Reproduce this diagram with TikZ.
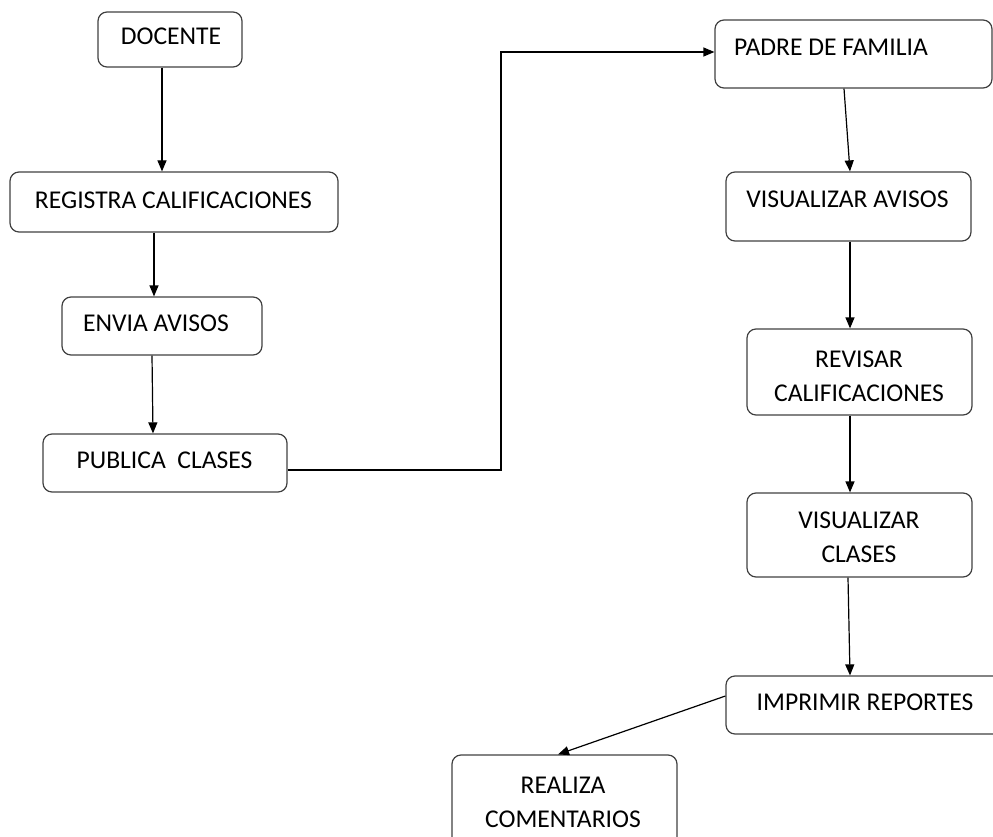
\documentclass[tikz,border=0pt]{standalone}
\usepackage{fontspec}
\setmainfont{Carlito}
\usetikzlibrary{arrows.meta, positioning}

\tikzset{
  caja/.style={draw=black!75, line width=1.2pt, rounded corners=9pt},
  texto/.style={font=\fontsize{25.6}{34}\selectfont, align=center, inner sep=0pt, text=black},
  flecha/.style={line width=1.2pt, -{Triangle[length=11pt, width=9pt]}}
}

\begin{document}
\begin{tikzpicture}[x=1pt, y=-1pt]
  \useasboundingbox (0,0) rectangle (993,837);
  \clip (0,0) rectangle (993,837);
  % cajas del docente
  \node[caja, minimum width=144pt, minimum height=55pt] (docente) at (170,39.5) {};
  \node[caja, minimum width=328pt, minimum height=60pt] (registra) at (174,202) {};
  \node[caja, minimum width=200pt, minimum height=58pt] (envia) at (162,326) {};
  \node[caja, minimum width=244pt, minimum height=58pt] (publica) at (165,463) {};
  \node[texto] (docente-t) at (171,36) {DOCENTE};
  \node[texto] (registra-t) at (173.5,200) {REGISTRA CALIFICACIONES};
  \node[texto] (envia-t) at (156,323) {ENVIA AVISOS};
  \node[texto] (publica-t) at (164.5,460) {PUBLICA\ \ CLASES};
  % cajas del padre
  \node[caja, minimum width=277pt, minimum height=68pt] (padre) at (853.5,54) {};
  \node[caja, minimum width=245pt, minimum height=69pt] (visav) at (848.5,206.5) {};
  \node[caja, minimum width=225pt, minimum height=86pt] (revisar) at (859.5,372) {};
  \node[caja, minimum width=225pt, minimum height=84pt] (viscla) at (859.5,535) {};
  \node[caja, minimum width=290pt, minimum height=58pt] (imprimir) at (871,705) {};
  \node[caja, minimum width=225pt, minimum height=100pt] (realiza) at (564.5,805) {};
  \node[texto] (padre-t) at (831,47) {PADRE DE FAMILIA};
  \node[texto] (visav-t) at (847.5,199) {VISUALIZAR AVISOS};
  \node[texto] (revisar-t) at (859,376) {REVISAR\\CALIFICACIONES};
  \node[texto] (viscla-t) at (859,537) {VISUALIZAR\\CLASES};
  \node[texto] (imprimir-t) at (865,702) {IMPRIMIR REPORTES};
  \node[texto] (realiza-t) at (563,802) {REALIZA\\COMENTARIOS};
  % flechas
  \coordinate (codo) at (501,52);
  \draw[flecha] ([xshift=-8pt]docente.south) -- ([xshift=-12pt]registra.north);
  \draw[flecha] ([xshift=-20pt]registra.south) -- ([xshift=-8pt]envia.north);
  \draw[flecha] ([xshift=-10pt]envia.south) -- ([xshift=-12pt]publica.north);
  \draw[flecha] ([yshift=-7pt]publica.east) -| (codo) -- (padre.west |- codo);
  \draw[flecha] ([xshift=-9.5pt]padre.south) -- ([xshift=1.5pt]visav.north);
  \draw[flecha] ([xshift=1.5pt]visav.south) -- ([xshift=-9.5pt]revisar.north);
  \draw[flecha] ([xshift=-9.5pt]revisar.south) -- ([xshift=-9.5pt]viscla.north);
  \draw[flecha] ([xshift=-11.5pt]viscla.south) -- ([xshift=-21pt]imprimir.north);
  \draw[flecha] ([yshift=9pt]imprimir.west) -- ([xshift=-6.5pt]realiza.north);
\end{tikzpicture}
\end{document}
